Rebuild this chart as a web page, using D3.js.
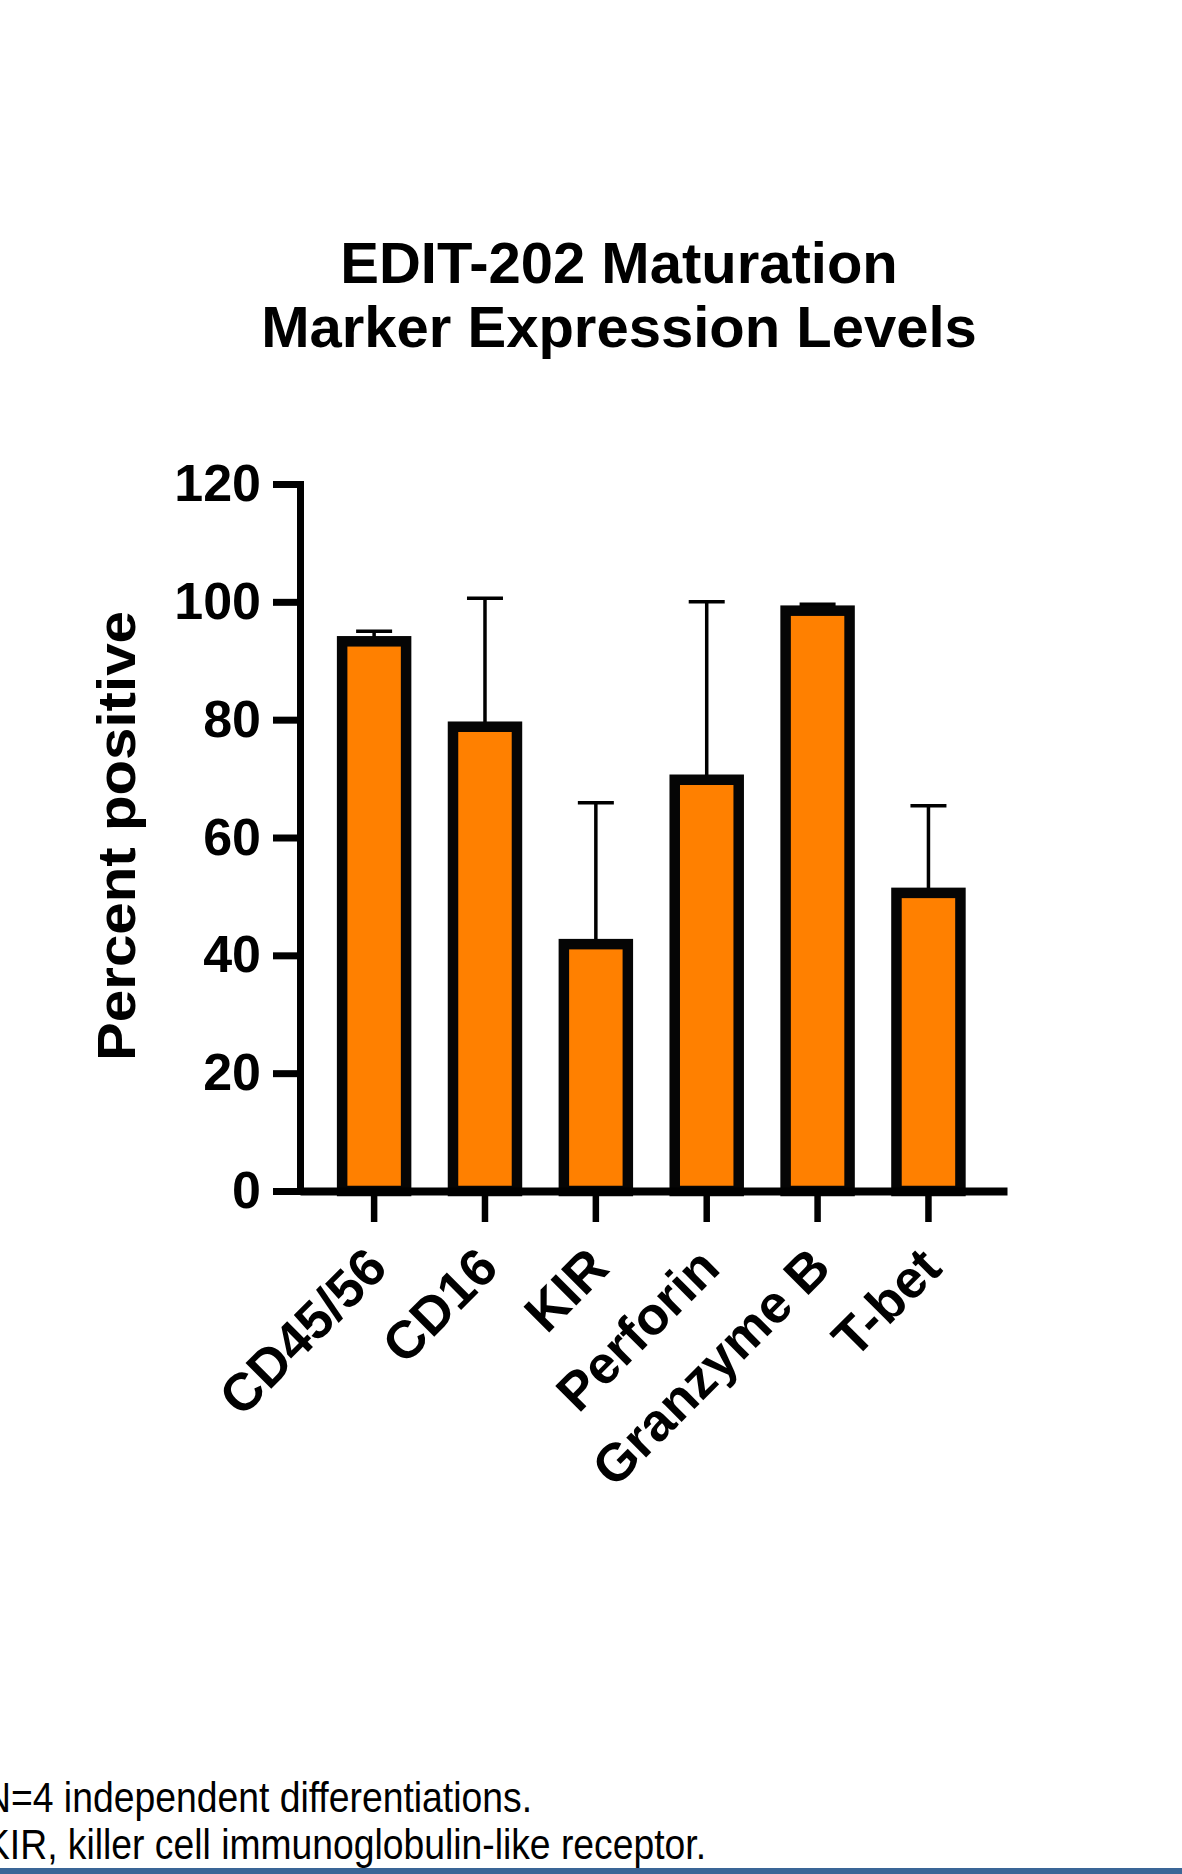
<!DOCTYPE html>
<html>
<head>
<meta charset="utf-8">
<title>EDIT-202 Maturation Marker Expression Levels</title>
<script src="https://cdn.jsdelivr.net/npm/d3@7"></script>
<style>
  html, body { margin: 0; padding: 0; background: #fff; }
  svg { display: block; }
  .bold { font-family: Arial, "Liberation Sans", Helvetica, sans-serif; font-weight: bold; fill: #000; }
  .note { font-family: Arial, "Liberation Sans", sans-serif; fill: #000; }
</style>
</head>
<body>
<svg id="chart"></svg>
<script>
// Data
const categories = ["CD45/56", "CD16", "KIR", "Perforin", "Granzyme B", "T-bet"];
const means = [93.3, 78.8, 41.9, 69.8, 98.5, 50.6];
const errors = [1.7, 21.8, 24.0, 30.2, 1.1, 14.8];
const yTicks = [0, 20, 40, 60, 80, 100, 120];
const titleLines = ["EDIT-202 Maturation", "Marker Expression Levels"];
const footnotes = ["N=4 independent differentiations.", "KIR, killer cell immunoglobulin-like receptor."];

const W = 1182, H = 1874;
const svg = d3.select("#chart").attr("width", W).attr("height", H);

svg.append("rect").attr("width", W).attr("height", H).attr("fill", "#fff");

const plot = { left: 300, right: 1007, top: 484, bottom: 1191 };

const x = d3.scaleBand()
  .domain(categories)
  .range([plot.left, plot.right])
  .paddingInner(0.423)
  .paddingOuter(0.4)
  .align(0.475);

const y = d3.scaleLinear()
  .domain([0, 120])
  .range([plot.bottom, plot.top]);

const rows = categories.map((c, i) => ({ cat: c, mean: means[i], err: errors[i] }));

// Title
svg.append("g").selectAll("text")
  .data(titleLines)
  .join("text")
  .attr("class", "bold")
  .attr("x", 619)
  .attr("y", (d, i) => 283 + i * 64)
  .attr("text-anchor", "middle")
  .attr("font-size", 58)
  .text(d => d);

// Error bars (behind bars)
const cap = 36;
const eb = svg.append("g").attr("stroke", "#000").attr("stroke-width", 3.5);
rows.forEach(d => {
  const cx = x(d.cat) + x.bandwidth() / 2;
  eb.append("line")
    .attr("x1", cx).attr("x2", cx)
    .attr("y1", y(d.mean)).attr("y2", y(d.mean + d.err));
  eb.append("line")
    .attr("x1", cx - cap / 2).attr("x2", cx + cap / 2)
    .attr("y1", y(d.mean + d.err)).attr("y2", y(d.mean + d.err));
});

// Bars
svg.append("g").selectAll("rect")
  .data(rows)
  .join("rect")
  .attr("x", d => x(d.cat))
  .attr("width", x.bandwidth())
  .attr("y", d => y(d.mean))
  .attr("height", d => y(0) - y(d.mean))
  .attr("fill", "#ff8000")
  .attr("stroke", "#050505")
  .attr("stroke-width", 10.5);

// Y axis
const yAxis = svg.append("g")
  .attr("transform", `translate(${plot.left},0)`)
  .call(d3.axisLeft(y).tickValues(yTicks).tickSize(27).tickSizeOuter(0).tickPadding(12));
yAxis.select(".domain").attr("stroke", "#000").attr("stroke-width", 7).attr("stroke-linecap", "square");
yAxis.selectAll(".tick line").attr("stroke", "#000").attr("stroke-width", 7);
yAxis.selectAll(".tick text")
  .attr("class", "bold")
  .attr("font-size", 52)
  .attr("font-family", null);

// X axis
const xAxis = svg.append("g")
  .attr("transform", `translate(0,${plot.bottom})`)
  .call(d3.axisBottom(x).tickSize(31).tickSizeOuter(0));
xAxis.select(".domain").attr("stroke", "#000").attr("stroke-width", 8);
xAxis.selectAll(".tick line").attr("stroke", "#000").attr("stroke-width", 6.5);
xAxis.selectAll(".tick text")
  .attr("class", "bold")
  .attr("font-size", 53)
  .attr("font-family", null)
  .attr("text-anchor", "end")
  .attr("x", 0)
  .attr("y", 0)
  .attr("dy", "0.36em")
  .attr("transform", "translate(2,66) rotate(-45)");

// Y axis title
svg.append("text")
  .attr("class", "bold")
  .attr("transform", "translate(135,836) rotate(-90)")
  .attr("text-anchor", "middle")
  .attr("font-size", 54)
  .attr("textLength", 450)
  .attr("lengthAdjust", "spacingAndGlyphs")
  .text("Percent positive");

// Footnotes
const noteLen = [548, 721];
svg.append("g").selectAll("text")
  .data(footnotes)
  .join("text")
  .attr("class", "note")
  .attr("x", (d, i) => i === 0 ? -16 : -15)
  .attr("y", (d, i) => 1812 + i * 47)
  .attr("font-size", 42)
  .attr("textLength", (d, i) => noteLen[i])
  .attr("lengthAdjust", "spacingAndGlyphs")
  .text(d => d);

// Bottom rule
svg.append("rect")
  .attr("x", 0).attr("y", 1868)
  .attr("width", W).attr("height", 6)
  .attr("fill", "#3a6697");
</script>
</body>
</html>
